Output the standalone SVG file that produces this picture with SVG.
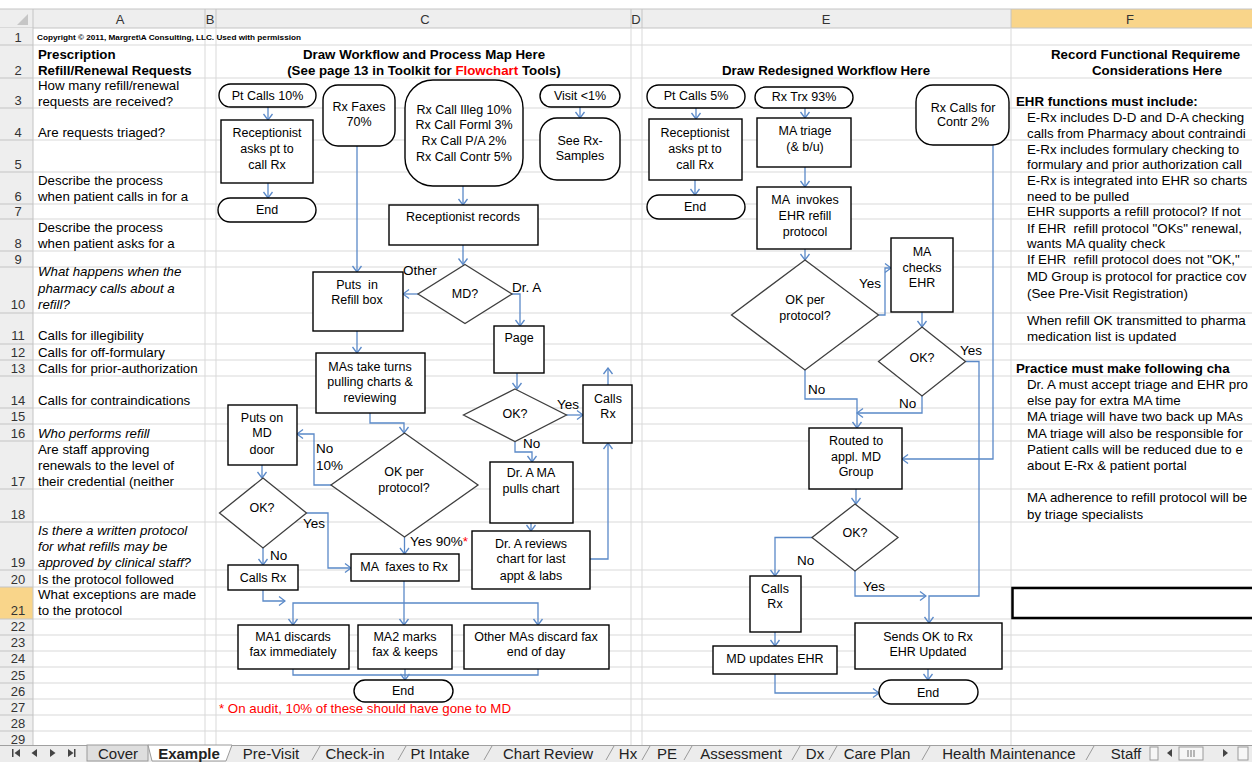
<svg xmlns="http://www.w3.org/2000/svg" width="1252" height="762" viewBox="0 0 1252 762">
<defs>
<style>
.g{stroke:#d9d9d9;stroke-width:1}
.hl{stroke:#c4c4c4;stroke-width:1}
.t{font-family:"Liberation Sans",Arial,sans-serif;dominant-baseline:central;fill:#000}
.ca{font-size:13.3px}
.b{font-weight:bold}
.i{font-style:italic}
.red{fill:#ff0000}
.hd{font-family:"Liberation Sans",Arial,sans-serif;font-size:13px;fill:#333;text-anchor:middle;dominant-baseline:central}
.f{font-family:"Liberation Sans",Arial,sans-serif;font-size:12.5px;text-anchor:middle;dominant-baseline:central;fill:#000}
.lbl{font-family:"Liberation Sans",Arial,sans-serif;font-size:13.5px;dominant-baseline:central;fill:#000}
.box{fill:#fff;stroke:#000;stroke-width:1.4}
.dia{fill:#fff;stroke:#3f3f3f;stroke-width:1.3}
.c{fill:none;stroke:#5a89c8;stroke-width:1.3;marker-end:url(#ah)}
.c0{fill:none;stroke:#5a89c8;stroke-width:1.3}
.tab{font-family:"Liberation Sans",Arial,sans-serif;font-size:15px;fill:#222;text-anchor:middle;dominant-baseline:central}
.tabl{stroke:#9a9a9a;stroke-width:1;fill:none}
</style>
<marker id="ah" markerUnits="userSpaceOnUse" markerWidth="10" markerHeight="12" viewBox="0 0 10 12" refX="9" refY="6" orient="auto">
<path d="M3,1.5 L9,6 L3,10.5" fill="none" stroke="#5a89c8" stroke-width="1.3"/>
</marker>
<clipPath id="r10"><rect x="33" y="267" width="172" height="46"/></clipPath>
</defs>

<!-- background -->
<rect x="0" y="0" width="1252" height="762" fill="#fff"/>

<!-- column header row -->
<g id="col-headers">
<rect x="0" y="9" width="1252" height="19" fill="#eeeeee"/>
<rect x="1011" y="9" width="241" height="19" fill="#f9d58a"/>
<line x1="0" y1="9" x2="1252" y2="9" class="hl"/>
<line x1="0" y1="28" x2="1252" y2="28" class="hl"/>
<line x1="33" y1="9" x2="33" y2="28" class="hl"/>
<line x1="205" y1="9" x2="205" y2="28" class="hl"/>
<line x1="216" y1="9" x2="216" y2="28" class="hl"/>
<line x1="631" y1="9" x2="631" y2="28" class="hl"/>
<line x1="642" y1="9" x2="642" y2="28" class="hl"/>
<line x1="1011" y1="9" x2="1011" y2="28" class="hl"/>
<polygon points="28,14 28,25 17,25" fill="#c6c6c6"/>
<text class="hd" x="120" y="19">A</text>
<text class="hd" x="210" y="19">B</text>
<text class="hd" x="425" y="19">C</text>
<text class="hd" x="636" y="19">D</text>
<text class="hd" x="826" y="19">E</text>
<text class="hd" x="1130" y="19">F</text>
</g>

<!-- grid -->
<g id="grid">
<g class="g">
<line x1="33" y1="45" x2="1252" y2="45"/>
<line x1="33" y1="78" x2="1252" y2="78"/>
<line x1="33" y1="108" x2="1252" y2="108"/>
<line x1="33" y1="140" x2="1252" y2="140"/>
<line x1="33" y1="172" x2="1252" y2="172"/>
<line x1="33" y1="204" x2="1252" y2="204"/>
<line x1="33" y1="219" x2="1252" y2="219"/>
<line x1="33" y1="251" x2="1252" y2="251"/>
<line x1="33" y1="267" x2="1252" y2="267"/>
<line x1="33" y1="313" x2="1252" y2="313"/>
<line x1="33" y1="344" x2="1252" y2="344"/>
<line x1="33" y1="360" x2="1252" y2="360"/>
<line x1="33" y1="376" x2="1252" y2="376"/>
<line x1="33" y1="408" x2="1252" y2="408"/>
<line x1="33" y1="424" x2="1252" y2="424"/>
<line x1="33" y1="441" x2="1252" y2="441"/>
<line x1="33" y1="489" x2="1252" y2="489"/>
<line x1="33" y1="522" x2="1252" y2="522"/>
<line x1="33" y1="570" x2="1252" y2="570"/>
<line x1="33" y1="587" x2="1252" y2="587"/>
<line x1="33" y1="619" x2="1252" y2="619"/>
<line x1="33" y1="635" x2="1252" y2="635"/>
<line x1="33" y1="651" x2="1252" y2="651"/>
<line x1="33" y1="667" x2="1252" y2="667"/>
<line x1="33" y1="683" x2="1252" y2="683"/>
<line x1="33" y1="699" x2="1252" y2="699"/>
<line x1="33" y1="715" x2="1252" y2="715"/>
<line x1="33" y1="731" x2="1252" y2="731"/>
<line x1="205" y1="28" x2="205" y2="745"/>
<line x1="216" y1="28" x2="216" y2="745"/>
<line x1="631" y1="28" x2="631" y2="745"/>
<line x1="642" y1="28" x2="642" y2="745"/>
<line x1="1011" y1="28" x2="1011" y2="745"/>
</g>
</g>

<!-- row headers -->
<g id="row-headers">
<rect x="0" y="28" width="33" height="717" fill="#eeeeee"/>
<rect x="0" y="587" width="33" height="32" fill="#f9d58a"/>
<line x1="33" y1="28" x2="33" y2="745" class="hl"/>
<g class="hl">
<line x1="0" y1="45" x2="33" y2="45"/><line x1="0" y1="78" x2="33" y2="78"/><line x1="0" y1="108" x2="33" y2="108"/>
<line x1="0" y1="140" x2="33" y2="140"/><line x1="0" y1="172" x2="33" y2="172"/><line x1="0" y1="204" x2="33" y2="204"/>
<line x1="0" y1="219" x2="33" y2="219"/><line x1="0" y1="251" x2="33" y2="251"/><line x1="0" y1="267" x2="33" y2="267"/>
<line x1="0" y1="313" x2="33" y2="313"/><line x1="0" y1="344" x2="33" y2="344"/><line x1="0" y1="360" x2="33" y2="360"/>
<line x1="0" y1="376" x2="33" y2="376"/><line x1="0" y1="408" x2="33" y2="408"/><line x1="0" y1="424" x2="33" y2="424"/>
<line x1="0" y1="441" x2="33" y2="441"/><line x1="0" y1="489" x2="33" y2="489"/><line x1="0" y1="522" x2="33" y2="522"/>
<line x1="0" y1="570" x2="33" y2="570"/><line x1="0" y1="587" x2="33" y2="587"/><line x1="0" y1="619" x2="33" y2="619"/>
<line x1="0" y1="635" x2="33" y2="635"/><line x1="0" y1="651" x2="33" y2="651"/><line x1="0" y1="667" x2="33" y2="667"/>
<line x1="0" y1="683" x2="33" y2="683"/><line x1="0" y1="699" x2="33" y2="699"/><line x1="0" y1="715" x2="33" y2="715"/>
<line x1="0" y1="731" x2="33" y2="731"/>
</g>
<g class="hd">
<text x="18" y="37">1</text><text x="18" y="70">2</text><text x="18" y="100">3</text><text x="18" y="132">4</text>
<text x="18" y="164">5</text><text x="18" y="196">6</text><text x="18" y="211">7</text><text x="18" y="243">8</text>
<text x="18" y="259">9</text><text x="18" y="304">10</text><text x="18" y="335">11</text><text x="18" y="352">12</text>
<text x="18" y="368">13</text><text x="18" y="400">14</text><text x="18" y="416">15</text><text x="18" y="433">16</text>
<text x="18" y="481">17</text><text x="18" y="514">18</text><text x="18" y="562">19</text><text x="18" y="579">20</text>
<text x="18" y="610">21</text><text x="18" y="626">22</text><text x="18" y="642">23</text><text x="18" y="658">24</text>
<text x="18" y="675">25</text><text x="18" y="691">26</text><text x="18" y="707">27</text><text x="18" y="723">28</text>
<text x="18" y="739">29</text>
</g>
</g>

<!-- column A -->
<g id="col-a">
<text class="t b" x="37" y="37" font-size="7.5" textLength="264" lengthAdjust="spacingAndGlyphs">Copyright © 2011, Margret\A Consulting, LLC. Used with permission</text>
<text class="t ca b" x="38" y="54">Prescription</text>
<text class="t ca b" x="38" y="70">Refill/Renewal Requests</text>
<text class="t ca" x="38" y="85">How many refill/renewal</text>
<text class="t ca" x="38" y="101">requests are received?</text>
<text class="t ca" x="38" y="132">Are requests triaged?</text>
<text class="t ca" x="38" y="180">Describe the process</text>
<text class="t ca" x="38" y="196">when patient calls in for a</text>
<text class="t ca" x="38" y="227">Describe the process</text>
<text class="t ca" x="38" y="243">when patient asks for a</text>
<text class="t ca i" x="38" y="271" clip-path="url(#r10)">What happens when the</text>
<text class="t ca i" x="38" y="288">pharmacy calls about a</text>
<text class="t ca i" x="38" y="304">refill?</text>
<text class="t ca" x="38" y="335">Calls for illegibility</text>
<text class="t ca" x="38" y="352">Calls for off-formulary</text>
<text class="t ca" x="38" y="368">Calls for prior-authorization</text>
<text class="t ca" x="38" y="400">Calls for contraindications</text>
<text class="t ca i" x="38" y="433">Who performs refill</text>
<text class="t ca" x="38" y="449">Are staff approving</text>
<text class="t ca" x="38" y="465">renewals to the level of</text>
<text class="t ca" x="38" y="481">their credential (neither</text>
<text class="t ca i" x="38" y="530">Is there a written protocol</text>
<text class="t ca i" x="38" y="546">for what refills may be</text>
<text class="t ca i" x="38" y="562">approved by clinical staff?</text>
<text class="t ca" x="38" y="579">Is the protocol followed</text>
<text class="t ca" x="38" y="594">What exceptions are made</text>
<text class="t ca" x="38" y="610">to the protocol</text>
</g>

<!-- titles -->
<g id="titles">
<text class="t ca b" x="424" y="54" text-anchor="middle">Draw Workflow and Process Map Here</text>
<text class="t ca b" x="424" y="70" text-anchor="middle">(See page 13 in Toolkit for <tspan class="red">Flowchart</tspan> Tools)</text>
<text class="t ca b" x="826" y="70" text-anchor="middle">Draw Redesigned Workflow Here</text>
<text class="t ca red" x="219" y="708">* On audit, 10% of these should have gone to MD</text>
</g>

<!-- column F -->
<g id="col-f">
<text class="t ca b" x="1051" y="54">Record Functional Requireme</text>
<text class="t ca b" x="1092" y="70">Considerations Here</text>
<text class="t ca b" x="1016" y="101">EHR functions must include:</text>
<text class="t ca" x="1027" y="117">E-Rx includes D-D and D-A checking</text>
<text class="t ca" x="1027" y="133">calls from Pharmacy about contraindi</text>
<text class="t ca" x="1027" y="149">E-Rx includes formulary checking to</text>
<text class="t ca" x="1027" y="164">formulary and prior authorization call</text>
<text class="t ca" x="1027" y="180">E-Rx is integrated into EHR so charts</text>
<text class="t ca" x="1027" y="196">need to be pulled</text>
<text class="t ca" x="1027" y="211">EHR supports a refill protocol? If not</text>
<text class="t ca" x="1027" y="228" xml:space="preserve">If EHR  refill protocol "OKs" renewal,</text>
<text class="t ca" x="1027" y="243">wants MA quality check</text>
<text class="t ca" x="1027" y="259" xml:space="preserve">If EHR  refill protocol does not "OK,"</text>
<text class="t ca" x="1027" y="276">MD Group is protocol for practice cov</text>
<text class="t ca" x="1027" y="293">(See Pre-Visit Registration)</text>
<text class="t ca" x="1027" y="320">When refill OK transmitted to pharma</text>
<text class="t ca" x="1027" y="336">medication list is updated</text>
<text class="t ca b" x="1016" y="368">Practice must make following cha</text>
<text class="t ca" x="1027" y="384">Dr. A must accept triage and EHR pro</text>
<text class="t ca" x="1027" y="400">else pay for extra MA time</text>
<text class="t ca" x="1027" y="416">MA triage will have two back up MAs</text>
<text class="t ca" x="1027" y="433">MA triage will also be responsible for</text>
<text class="t ca" x="1027" y="449">Patient calls will be reduced due to e</text>
<text class="t ca" x="1027" y="465">about E-Rx &amp; patient portal</text>
<text class="t ca" x="1027" y="497">MA adherence to refill protocol will be</text>
<text class="t ca" x="1027" y="514">by triage specialists</text>
<rect x="1012.5" y="588" width="242" height="30" fill="none" stroke="#000" stroke-width="2.5"/>
</g>

<!-- connectors -->
<g id="connectors">
<path class="c" d="M268,107 L268,120"/>
<path class="c" d="M268,183 L268,198"/>
<path class="c" d="M357,146 L357,272"/>
<path class="c" d="M463,186 L463,205"/>
<path class="c" d="M463,245 L463,264.5"/>
<path class="c" d="M580,107 L580,118"/>
<path class="c" d="M418,294 L403,294"/>
<path class="c" d="M511.5,294 L520,294 L520,326"/>
<path class="c" d="M357,331 L357,353"/>
<path class="c" d="M517,373 L517,389"/>
<path class="c" d="M566,415 L583,415"/>
<path class="c" d="M515,441.5 L515,452 L532,452 L532,462"/>
<path class="c" d="M531,523 L531,531"/>
<path class="c" d="M590,559 L608,559 L608,443"/>
<path class="c" d="M608,385 L608,368"/>
<path class="c" d="M370,413 L370,423 L404,423 L404,433"/>
<path class="c" d="M331,485 L314,485 L314,434 L297,434"/>
<path class="c" d="M262,465 L262,478"/>
<path class="c" d="M306.5,513 L328,513 L328,568 L351,568"/>
<path class="c" d="M263,548 L263,565"/>
<path class="c" d="M263,590 L263,601 L285,601"/>
<path class="c" d="M404.5,537 L404.5,554"/>
<path class="c" d="M404,581 L404,625"/>
<path class="c" d="M404,603 L293,603 L293,625"/>
<path class="c" d="M404,603 L538,603 L538,625"/>
<path class="c0" d="M293,669 L293,675 L538,675 L538,669"/>
<path class="c" d="M405,669 L405,680"/>

<path class="c" d="M696,108 L696,119"/>
<path class="c" d="M695,180 L695,195"/>
<path class="c" d="M805,108 L805,118"/>
<path class="c" d="M805,167 L805,187"/>
<path class="c" d="M805,249 L805,260"/>
<path class="c" d="M878.5,315 L885,315 L885,268 L891,268"/>
<path class="c" d="M922,312 L922,327"/>
<path class="c" d="M965.5,361.5 L979,361.5 L979,596 L929,596 L929,623"/>
<path class="c" d="M993,145 L993,459 L902,459"/>
<path class="c" d="M805,370 L805,399 L857,399 L857,428"/>
<path class="c" d="M922,396 L922,413 L857,413"/>
<path class="c" d="M856,489 L856,504"/>
<path class="c" d="M812,537.5 L775,537.5 L775,576"/>
<path class="c" d="M855,571 L855,596 L926,596"/>
<path class="c" d="M775,632 L775,646"/>
<path class="c" d="M775,674 L775,693 L879,693"/>
<path class="c" d="M928,669 L928,680"/>
</g>

<!-- connector labels -->
<g id="labels">
<text class="lbl" x="403" y="270" font-size="14.5">Other</text>
<text class="lbl" x="512" y="287">Dr. A</text>
<text class="lbl" x="557" y="404">Yes</text>
<text class="lbl" x="523" y="443">No</text>
<text class="lbl" x="316" y="448">No</text>
<text class="lbl" x="316" y="465">10%</text>
<text class="lbl" x="303" y="523">Yes</text>
<text class="lbl" x="270" y="555">No</text>
<text class="lbl" x="410" y="541">Yes 90%<tspan class="red">*</tspan></text>
<text class="lbl" x="859" y="283">Yes</text>
<text class="lbl" x="960" y="350">Yes</text>
<text class="lbl" x="808" y="389">No</text>
<text class="lbl" x="899" y="403">No</text>
<text class="lbl" x="797" y="560">No</text>
<text class="lbl" x="863" y="586">Yes</text>
</g>

<!-- left flowchart nodes -->
<g id="n-ptcalls10"><rect class="box" x="219" y="84" width="97" height="23" rx="11.5"/><text class="f" x="267.5" y="96">Pt Calls 10%</text></g>
<g id="n-recep1"><rect class="box" x="221" y="120" width="92" height="63"/><text class="f" x="267" y="133">Receptionist</text><text class="f" x="267" y="149">asks pt to</text><text class="f" x="267" y="165">call Rx</text></g>
<g id="n-end1"><rect class="box" x="218" y="198" width="98" height="24" rx="12"/><text class="f" x="267" y="210">End</text></g>
<g id="n-rxfaxes"><rect class="box" x="323" y="85" width="72" height="61" rx="15"/><text class="f" x="359" y="107">Rx Faxes</text><text class="f" x="359" y="122">70%</text></g>
<g id="n-rxcalls"><rect class="box" x="405" y="80" width="118" height="106" rx="28"/><text class="f" x="464" y="110">Rx Call Illeg 10%</text><text class="f" x="464" y="125">Rx Call Forml 3%</text><text class="f" x="464" y="141">Rx Call P/A 2%</text><text class="f" x="464" y="157">Rx Call Contr 5%</text></g>
<g id="n-visit"><rect class="box" x="540" y="85" width="80" height="22" rx="11"/><text class="f" x="580" y="96">Visit &lt;1%</text></g>
<g id="n-samples"><rect class="box" x="540" y="118" width="80" height="62" rx="17"/><text class="f" x="580" y="141">See Rx-</text><text class="f" x="580" y="156">Samples</text></g>
<g id="n-records"><rect class="box" x="389" y="205" width="149" height="40"/><text class="f" x="463" y="217">Receptionist records</text></g>
<g id="n-md"><polygon class="dia" points="465,264.5 512,294 465,323.5 418,294"/><text class="f" x="465" y="294">MD?</text></g>
<g id="n-refill"><rect class="box" x="313" y="272" width="90" height="59"/><text class="f" x="357" y="285" xml:space="preserve">Puts  in</text><text class="f" x="357" y="300">Refill box</text></g>
<g id="n-page"><rect class="box" x="494" y="326" width="50" height="47"/><text class="f" x="519" y="338">Page</text></g>
<g id="n-mas"><rect class="box" x="316" y="353" width="109" height="60"/><text class="f" x="370" y="367">MAs take turns</text><text class="f" x="370" y="382">pulling charts &amp;</text><text class="f" x="370" y="398">reviewing</text></g>
<g id="n-ok-a"><polygon class="dia" points="515,389 566.5,415 515,441.5 463.5,415"/><text class="f" x="515" y="414">OK?</text></g>
<g id="n-callsrx1"><rect class="box" x="583" y="385" width="49" height="58"/><text class="f" x="608" y="399">Calls</text><text class="f" x="608" y="414">Rx</text></g>
<g id="n-drama"><rect class="box" x="490" y="462" width="83" height="61"/><text class="f" x="531" y="473">Dr. A MA</text><text class="f" x="531" y="489">pulls chart</text></g>
<g id="n-drarev"><rect class="box" x="472" y="531" width="118" height="58"/><text class="f" x="531" y="544">Dr. A reviews</text><text class="f" x="531" y="559">chart for last</text><text class="f" x="531" y="576">appt &amp; labs</text></g>
<g id="n-okprot1"><polygon class="dia" points="404.5,433 478,485 404.5,537 331,485"/><text class="f" x="404" y="472">OK per</text><text class="f" x="404" y="488">protocol?</text></g>
<g id="n-mddoor"><rect class="box" x="228" y="405" width="69" height="60"/><text class="f" x="262" y="418">Puts on</text><text class="f" x="262" y="433">MD</text><text class="f" x="262" y="450">door</text></g>
<g id="n-ok-door"><polygon class="dia" points="263,478 306.5,513 263,548 219.5,513"/><text class="f" x="262" y="508">OK?</text></g>
<g id="n-callsrx2"><rect class="box" x="228" y="565" width="70" height="25"/><text class="f" x="263" y="578">Calls Rx</text></g>
<g id="n-mafax"><rect class="box" x="351" y="554" width="108" height="27"/><text class="f" x="404" y="567" xml:space="preserve">MA  faxes to Rx</text></g>
<g id="n-ma1"><rect class="box" x="238" y="625" width="111" height="44"/><text class="f" x="293" y="637">MA1 discards</text><text class="f" x="293" y="652">fax immediately</text></g>
<g id="n-ma2"><rect class="box" x="358" y="625" width="94" height="44"/><text class="f" x="405" y="637">MA2 marks</text><text class="f" x="405" y="652">fax &amp; keeps</text></g>
<g id="n-othermas"><rect class="box" x="464" y="625" width="145" height="44"/><text class="f" x="536" y="637">Other MAs discard fax</text><text class="f" x="536" y="652">end of day</text></g>
<g id="n-end2"><rect class="box" x="354" y="680" width="99" height="22" rx="11"/><text class="f" x="403" y="691">End</text></g>

<!-- redesigned flowchart nodes -->
<g id="m-ptcalls5"><rect class="box" x="647" y="85" width="98" height="23" rx="11.5"/><text class="f" x="696" y="96">Pt Calls 5%</text></g>
<g id="m-recep"><rect class="box" x="649" y="119" width="93" height="61"/><text class="f" x="695" y="133">Receptionist</text><text class="f" x="695" y="149">asks pt to</text><text class="f" x="695" y="165">call Rx</text></g>
<g id="m-end1"><rect class="box" x="647" y="195" width="98" height="24" rx="12"/><text class="f" x="695" y="207">End</text></g>
<g id="m-rxtrx"><rect class="box" x="755" y="87" width="98" height="21" rx="10.5"/><text class="f" x="804" y="97">Rx Trx 93%</text></g>
<g id="m-triage"><rect class="box" x="757" y="118" width="94" height="49"/><text class="f" x="805" y="131">MA triage</text><text class="f" x="805" y="147">(&amp; b/u)</text></g>
<g id="m-invokes"><rect class="box" x="757" y="187" width="94" height="62"/><text class="f" x="805" y="200" xml:space="preserve">MA  invokes</text><text class="f" x="805" y="216">EHR refill</text><text class="f" x="805" y="232">protocol</text></g>
<g id="m-okprot"><polygon class="dia" points="805,260 878.5,315 805,370 731.5,315"/><text class="f" x="805" y="300">OK per</text><text class="f" x="805" y="316">protocol?</text></g>
<g id="m-checks"><rect class="box" x="891" y="238" width="62" height="74"/><text class="f" x="922" y="252">MA</text><text class="f" x="922" y="268">checks</text><text class="f" x="922" y="283">EHR</text></g>
<g id="m-ok1"><polygon class="dia" points="922,327 965.5,361.5 922,396 878.5,361.5"/><text class="f" x="922" y="358">OK?</text></g>
<g id="m-contr"><rect class="box" x="916" y="85" width="93" height="60" rx="17"/><text class="f" x="963" y="108">Rx Calls for</text><text class="f" x="963" y="122">Contr 2%</text></g>
<g id="m-routed"><rect class="box" x="809" y="428" width="93" height="61"/><text class="f" x="856" y="441">Routed to</text><text class="f" x="856" y="457">appl. MD</text><text class="f" x="856" y="472">Group</text></g>
<g id="m-ok2"><polygon class="dia" points="855,504 898,537.5 855,571 812,537.5"/><text class="f" x="855" y="533">OK?</text></g>
<g id="m-callsrx"><rect class="box" x="750" y="576" width="51" height="56"/><text class="f" x="775" y="589">Calls</text><text class="f" x="775" y="604">Rx</text></g>
<g id="m-mdupd"><rect class="box" x="713" y="646" width="124" height="28"/><text class="f" x="775" y="659">MD updates EHR</text></g>
<g id="m-sends"><rect class="box" x="855" y="623" width="147" height="46"/><text class="f" x="928" y="637">Sends OK to Rx</text><text class="f" x="928" y="652">EHR Updated</text></g>
<g id="m-end2"><rect class="box" x="879" y="680" width="99" height="24" rx="12"/><text class="f" x="928" y="693">End</text></g>

<!-- sheet tabs -->
<g id="tabs">
<rect x="0" y="745" width="1252" height="17" fill="#ececec"/>
<line x1="0" y1="745.5" x2="1252" y2="745.5" stroke="#a0a0a0"/>
<g fill="#444">
<rect x="12" y="749" width="1.5" height="8"/><polygon points="20,749 20,757 14.5,753"/>
<polygon points="37,749 37,757 31.5,753"/>
<polygon points="50,749 50,757 55.5,753"/>
<polygon points="68,749 68,757 73.5,753"/><rect x="74" y="749" width="1.5" height="8"/>
</g>
<rect x="87" y="745" width="61" height="16" fill="#dedede" stroke="#9a9a9a"/>
<polygon points="148,745 232,745 226,761 152,761" fill="#fff" stroke="#9a9a9a"/>
<g class="tabl">
<path d="M312,760 L320,746"/><path d="M398,760 L406,746"/><path d="M484,760 L492,746"/>
<path d="M606,760 L614,746"/><path d="M642,760 L650,746"/><path d="M684,760 L692,746"/>
<path d="M792,760 L800,746"/><path d="M829,760 L837,746"/><path d="M922,760 L930,746"/>
<path d="M1086,760 L1094,746"/>
</g>
<text class="tab" x="118" y="753">Cover</text>
<text class="tab" x="189" y="753" font-weight="bold">Example</text>
<text class="tab" x="271" y="753">Pre-Visit</text>
<text class="tab" x="355" y="753">Check-in</text>
<text class="tab" x="440" y="753">Pt Intake</text>
<text class="tab" x="548" y="753">Chart Review</text>
<text class="tab" x="628" y="753">Hx</text>
<text class="tab" x="667" y="753">PE</text>
<text class="tab" x="741" y="753">Assessment</text>
<text class="tab" x="815" y="753">Dx</text>
<text class="tab" x="877" y="753">Care Plan</text>
<text class="tab" x="1009" y="753">Health Maintenance</text>
<text class="tab" x="1126" y="753">Staff</text>
<rect x="1150" y="747" width="8" height="13" fill="#f6f6f6" stroke="#9a9a9a"/>
<polygon points="1172,749 1172,757 1167,753" fill="#444"/>
<rect x="1179" y="747" width="24" height="13" fill="#f6f6f6" stroke="#9a9a9a"/>
<g stroke="#777"><line x1="1188" y1="750" x2="1188" y2="757"/><line x1="1191" y1="750" x2="1191" y2="757"/><line x1="1194" y1="750" x2="1194" y2="757"/></g>
<polygon points="1223,749 1223,757 1228,753" fill="#444"/>
<rect x="1238" y="747" width="10" height="13" fill="#f6f6f6" stroke="#9a9a9a"/>
</g>
</svg>
